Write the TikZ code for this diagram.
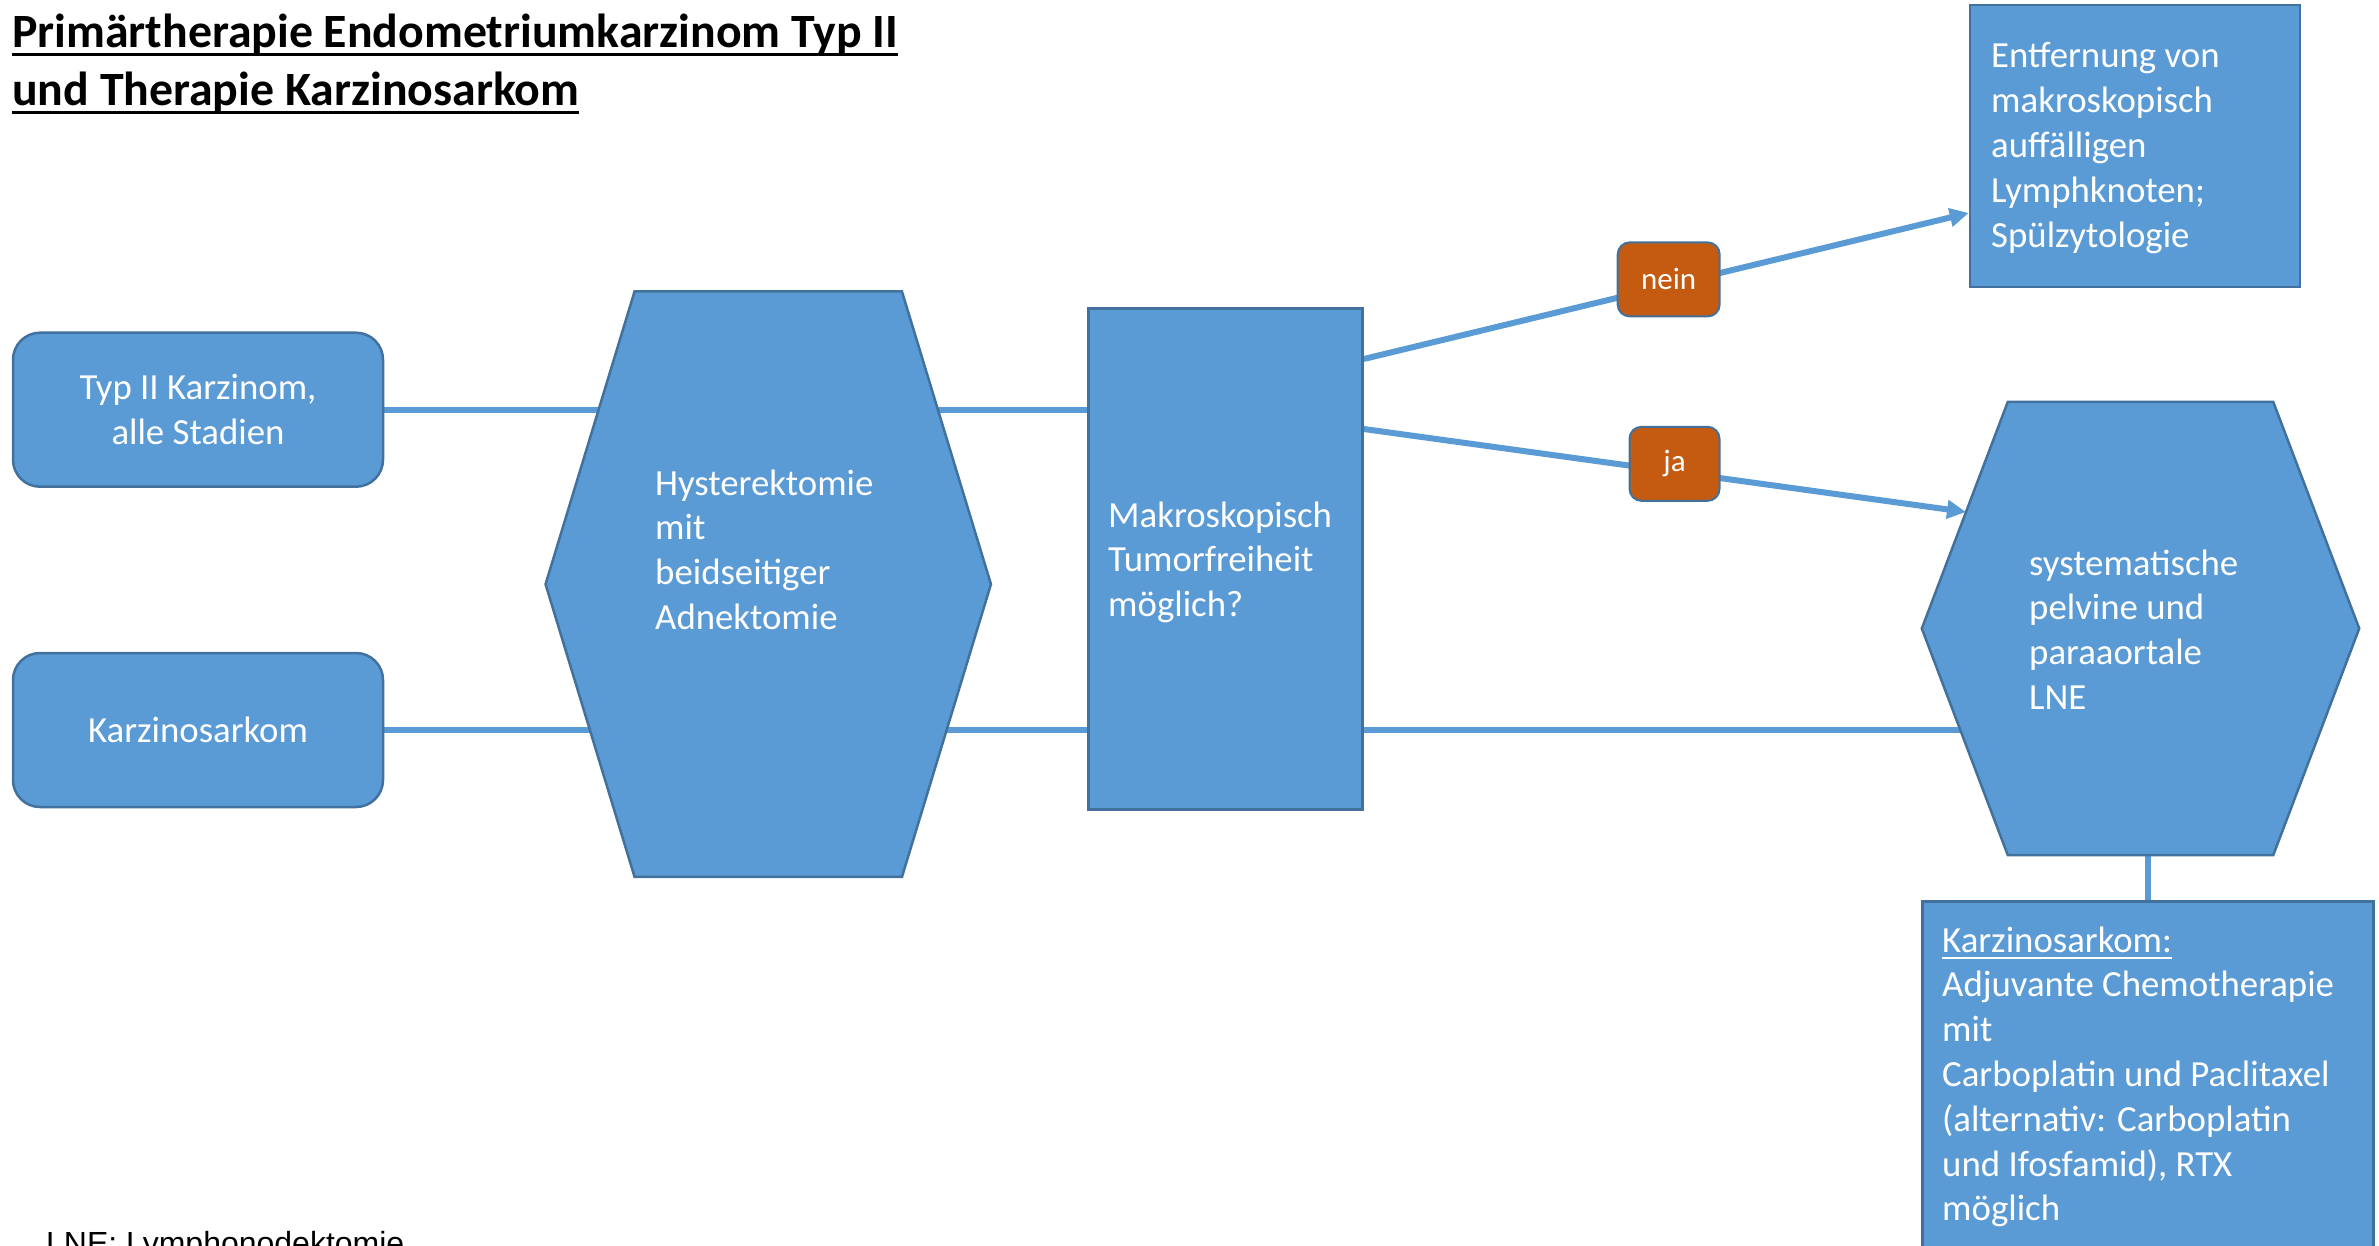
\documentclass[tikz,border=0pt]{standalone}
\usepackage{fontspec}
\setmainfont{Carlito}
\newfontfamily\arialf{Liberation Sans}
\usetikzlibrary{arrows.meta,calc,backgrounds}
\definecolor{boxfill}{HTML}{5B9BD5}
\definecolor{boxline}{HTML}{41719C}
\definecolor{lblfill}{HTML}{C55A11}
\newcommand\ulrule[3]{\leavevmode\setbox0\hbox{#3}\rlap{\raisebox{-#1}{\rule{\wd0}{#2}}}\box0}
\newcommand\txtlines[1]{\vtop{\baselineskip=44.8pt\lineskiplimit=-100pt\lineskip=0pt\halign{##\hfil\cr#1\crcr}}}
\tikzset{
  basefont/.style={font=\fontsize{36.8pt}{44.8pt}\selectfont, text=white},
  rbox/.style={basefont, draw=boxline, fill=boxfill, line width=2.5pt, rounded corners=27pt,
    minimum width=370pt, minimum height=154pt, align=center, inner sep=0pt},
  sbox/.style={draw=boxline, fill=boxfill, line width=2.5pt, inner sep=0pt},
  hexframe/.style={draw=none, inner sep=0pt},
  hexfill/.style={draw=boxline, fill=boxfill, line width=2.5pt},
  txt/.style={basefont, inner sep=0pt, anchor=base west},
  conn/.style={draw=boxfill, line width=6pt},
  arr/.style={conn, -{Triangle[length=19pt,width=18pt]}},
  lbl/.style={draw=boxline, fill=lblfill, line width=2pt, rounded corners=12pt, text=white,
    font=\fontsize{31pt}{37pt}\selectfont, inner sep=0pt, minimum height=74pt}
}
\begin{document}
\begin{tikzpicture}[x=1pt,y=-1pt]
\useasboundingbox (0,0) rectangle (2379,1246);

% title
\node[anchor=base west, inner sep=0pt, font=\fontsize{47.8pt}{58pt}\selectfont\bfseries] (title) at (12,48)
  {\vtop{\baselineskip=58pt\lineskiplimit=-100pt\lineskip=0pt
   \hbox{\ulrule{8pt}{3pt}{Primärtherapie Endometriumkarzinom Typ II}}
   \hbox{\ulrule{8pt}{3pt}{und Therapie Karzinosarkom}}}};

% left boxes
\node[rbox] (typ) at (198,409.7) {Typ II Karzinom,\\alle Stadien};
\node[rbox] (kar) at (198,730) {Karzinosarkom};

% hexagon 1
\node[hexframe, minimum width=445pt, minimum height=585pt] (hexA) at (768.25,584.2) {};
\filldraw[hexfill] (hexA.west) -- ([xshift=89pt]hexA.north west) -- ([xshift=-89pt]hexA.north east)
  -- (hexA.east) -- ([xshift=-89pt]hexA.south east) -- ([xshift=89pt]hexA.south west) -- cycle;
\node[txt] (hexAtxt) at (655,495) {\txtlines{Hysterektomie\cr mit\cr beidseitiger\cr Adnektomie}};

% decision rectangle
\node[sbox, minimum width=274pt, minimum height=501pt] (mak) at (1225.5,559) {};
\node[txt] (maktxt) at (1108,527) {\txtlines{Makroskopisch\cr Tumorfreiheit\cr möglich?}};

% top right box
\node[sbox, minimum width=330pt, minimum height=282pt] (ent) at (2135,146) {};
\node[txt] (enttxt) at (1991,68) {\txtlines{Entfernung von\cr makroskopisch\cr auffälligen\cr Lymphknoten;\cr Spülzytologie}};

% hexagon 2
\node[hexframe, minimum width=437pt, minimum height=453pt] (hexB) at (2140.5,628.5) {};
\filldraw[hexfill] (hexB.west) -- ([xshift=86pt]hexB.north west) -- ([xshift=-86pt]hexB.north east)
  -- (hexB.east) -- ([xshift=-86pt]hexB.south east) -- ([xshift=86pt]hexB.south west) -- cycle;
\node[txt] (hexBtxt) at (2029,575) {\txtlines{systematische\cr pelvine und\cr paraaortale\cr LNE}};
\coordinate (jaT) at ($(hexB.west)!0.514!([xshift=86pt]hexB.north west)$);

% bottom right box
\node[sbox, minimum width=451pt, minimum height=400pt, anchor=north west] (bot) at (1921,900) {};
\node[txt] (bottxt) at (1942,952) {\txtlines{\ulrule{7pt}{2pt}{Karzinosarkom:}\cr
  Adjuvante Chemotherapie\cr mit\cr Carboplatin und Paclitaxel\cr (alternativ: Carboplatin\cr
  und Ifosfamid), RTX\cr möglich}};

% footnote
\node[anchor=base west, inner sep=0pt, font=\arialf\fontsize{32pt}{38pt}\selectfont] (lne) at (46,1254) {LNE: Lymphonodektomie};

% connectors
\begin{scope}[on background layer]
\fill[white] (0,0) rectangle (2379,1246);
\draw[conn] (typ.east) -- (typ.east -| mak.center);
\draw[conn] (kar.east) -- (kar.east -| hexB.center);
\draw[arr] ([yshift=200pt]mak.east) -- node[lbl, pos=0.504, minimum width=102pt, yshift=6pt] (nein) {nein} ([yshift=-67pt]ent.west);
\draw[arr] ([yshift=130pt]mak.east) -- node[lbl, pos=0.516, minimum width=90pt, yshift=8pt] (ja) {ja} (jaT);
\draw[conn] (bot.north) -- (bot.north |- hexB.south);
\end{scope}
\end{tikzpicture}
\end{document}
